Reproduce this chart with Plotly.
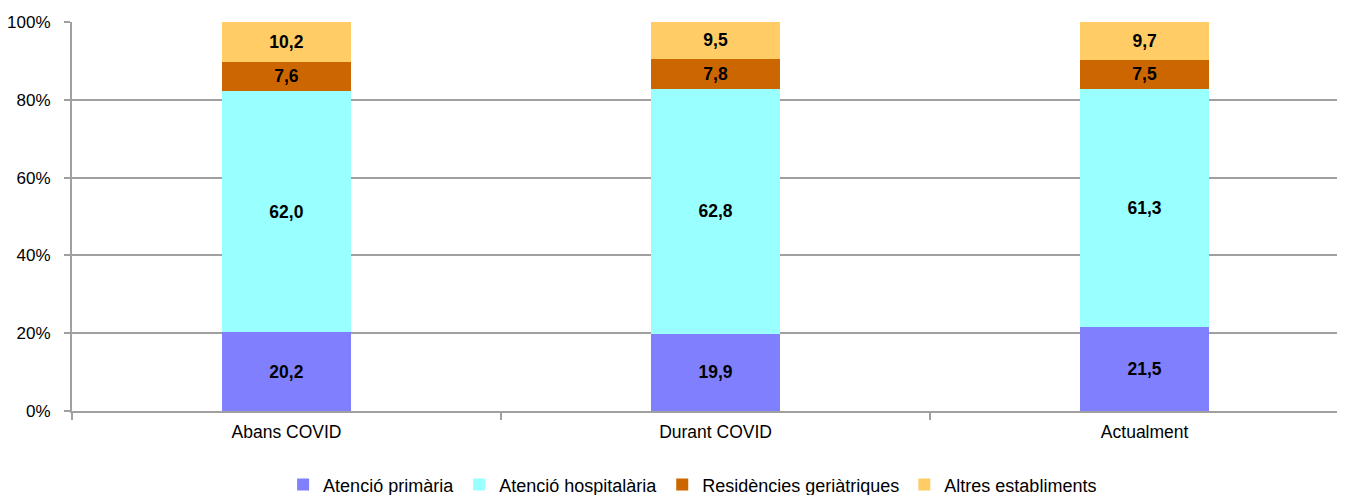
import plotly.graph_objects as go

categories = ["Abans COVID", "Durant COVID", "Actualment"]
series_names = ["Atenció primària", "Atenció hospitalària", "Residències geriàtriques", "Altres establiments"]
primaria = [20.2, 19.9, 21.5]
hospitalaria = [62.0, 62.8, 61.3]
residencies = [7.6, 7.8, 7.5]
altres = [10.2, 9.5, 9.7]
colors = ["#8080FF", "#99FFFF", "#CC6600", "#FFCC66"]
y_ticks = [0, 20, 40, 60, 80, 100]
y_tick_labels = ["0%", "20%", "40%", "60%", "80%", "100%"]

FONT = "Liberation Sans, Arial"

fig = go.Figure()
for name, vals, col in zip(series_names, [primaria, hospitalaria, residencies, altres], colors):
    fig.add_trace(go.Bar(
        x=categories, y=vals, name=name,
        marker=dict(color=col, line=dict(width=0)),
        text=[f"{v:.1f}".replace(".", ",") for v in vals],
        textposition="inside", insidetextanchor="middle",
        textfont=dict(family=FONT, size=17.5, color="black", weight="bold"),
        width=0.3,
    ))

# page body has an 8px default margin: compensate in the figure margins
fig.update_layout(
    barmode="stack",
    width=1345, height=495,
    margin=dict(l=64, r=8, t=14, b=92, autoexpand=False),
    plot_bgcolor="white", paper_bgcolor="white",
    font=dict(family=FONT, size=17, color="black"),
    showlegend=True,
    legend=dict(orientation="h", xref="container", yref="container",
                x=0.509, xanchor="center", y=0.074, yanchor="top",
                font=dict(size=18), itemwidth=30, traceorder="normal"),
)
fig.update_xaxes(
    type="category", range=[-0.5, 2.467], automargin=False,
    showline=True, linecolor="#A0A0A0", linewidth=2,
    ticks="outside", tickson="boundaries", ticklen=7, tickcolor="#A0A0A0", tickwidth=2,
    showgrid=False, tickfont=dict(size=17.5), ticklabelstandoff=4,
)
fig.update_yaxes(
    range=[0, 100], tickvals=y_ticks, ticktext=y_tick_labels, automargin=False,
    showline=True, linecolor="#A0A0A0", linewidth=2,
    ticks="outside", ticklen=6, tickcolor="#A0A0A0", tickwidth=2,
    showgrid=True, gridcolor="#A0A0A0", gridwidth=2,
    zeroline=False, tickfont=dict(size=17), ticklabelstandoff=10,
)
fig.write_html("out.html")
